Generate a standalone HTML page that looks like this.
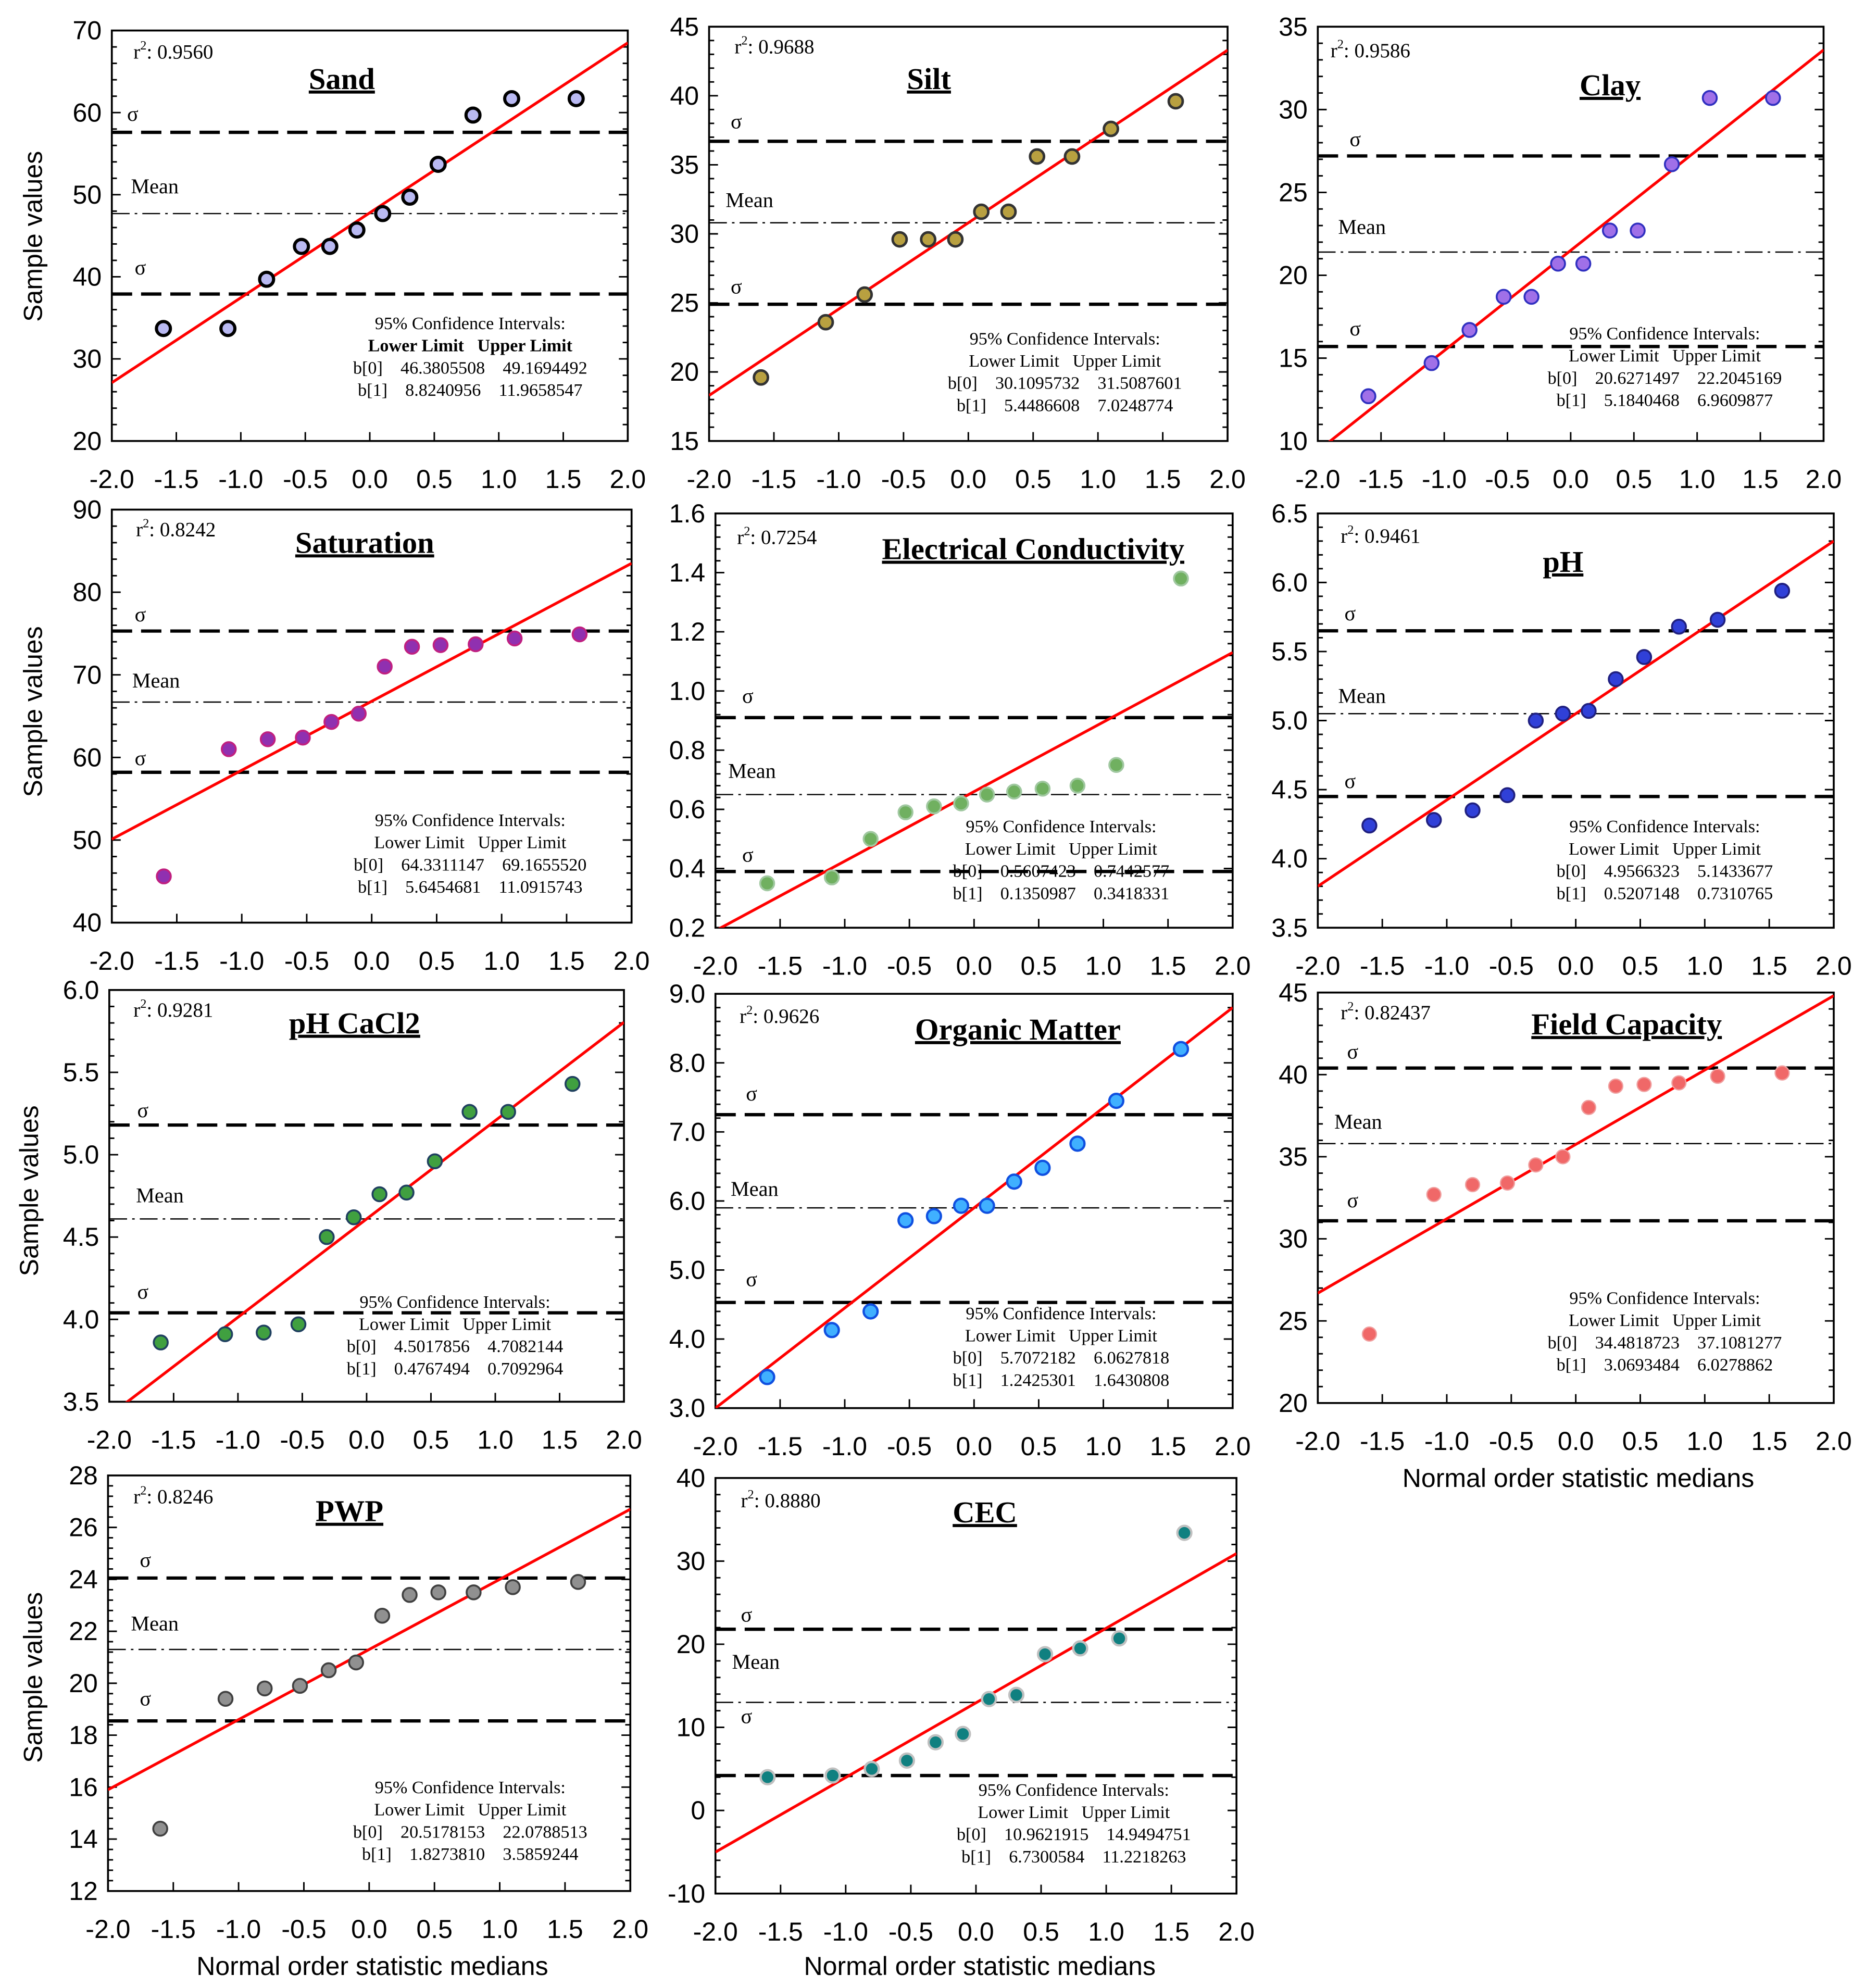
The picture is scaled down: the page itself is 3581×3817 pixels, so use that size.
<!DOCTYPE html>
<html><head><meta charset="utf-8"><style>
html,body{margin:0;padding:0;background:#fff;}
svg{display:block;}
.tk{font-family:"Liberation Sans",Arial,sans-serif;font-size:20.5px;fill:#000;}
.ser{font-family:"Liberation Serif","Times New Roman",serif;fill:#000;}
.pre{white-space:pre;}
</style></head><body>
<svg id="chart" xmlns="http://www.w3.org/2000/svg" width="3581" height="3817" viewBox="0 0 1467.6 1564.3"></svg>
<script>
const xMedians = [-1.6,-1.1,-0.8,-0.53,-0.31,-0.1,0.1,0.31,0.53,0.8,1.1,1.6];
const xTicks = [-2.0,-1.5,-1.0,-0.5,0.0,0.5,1.0,1.5,2.0];
const sandValues = [33.7,33.7,39.7,43.7,43.7,45.7,47.7,49.7,53.7,59.7,61.7,61.7];
const siltValues = [19.6,23.6,25.6,29.6,29.6,29.6,31.6,31.6,35.6,35.6,37.6,39.6];
const clayValues = [12.7,14.7,16.7,18.7,18.7,20.7,20.7,22.7,22.7,26.7,30.7,30.7];
const saturationValues = [45.6,61,62.2,62.4,64.3,65.3,71,73.4,73.6,73.7,74.4,74.9];
const ecValues = [0.35,0.37,0.50,0.59,0.61,0.62,0.65,0.66,0.67,0.68,0.75,1.38];
const phValues = [4.24,4.28,4.35,4.46,5.0,5.05,5.07,5.3,5.46,5.68,5.73,5.94];
const phCaValues = [3.86,3.91,3.92,3.97,4.5,4.62,4.76,4.77,4.96,5.26,5.26,5.43];
const omValues = [3.45,4.13,4.4,5.72,5.78,5.93,5.93,6.28,6.48,6.83,7.45,8.2];
const fcValues = [24.2,32.7,33.3,33.4,34.5,35,38,39.3,39.4,39.5,39.9,40.1];
const pwpValues = [14.4,19.4,19.8,19.9,20.5,20.8,22.6,23.4,23.5,23.5,23.7,23.9];
const cecValues = [4,4.2,5,6,8.2,9.2,13.4,13.9,18.8,19.5,20.7,33.4];
const sandFit=[47.8,10.35], siltFit=[30.8,6.25], clayFit=[21.5,6.05], satFit=[66.8,8.35], ecFit=[0.66,0.235],
      phFit=[5.05,0.625], phCaFit=[4.61,0.597], omFit=[5.9,1.45], fcFit=[35.75,4.53], pwpFit=[21.3,2.7], cecFit=[12.95,8.98];
const sandStats=[47.7,57.6,37.9], siltStats=[30.8,36.7,24.9], clayStats=[21.4,27.2,15.7], satStats=[66.7,75.3,58.2],
      ecStats=[0.65,0.91,0.39], phStats=[5.05,5.65,4.45], phCaStats=[4.61,5.18,4.04], omStats=[5.9,7.25,4.53],
      fcStats=[35.8,40.4,31.1], pwpStats=[21.3,24.05,18.55], cecStats=[13.0,21.8,4.2];
const r2Labels=["0.9560","0.9688","0.9586","0.8242","0.7254","0.9461","0.9281","0.9626","0.82437","0.8246","0.8880"];
const ciB0=[["46.3805508","49.1694492"],["30.1095732","31.5087601"],["20.6271497","22.2045169"],["64.3311147","69.1655520"],["0.5607423","0.7442577"],["4.9566323","5.1433677"],["4.5017856","4.7082144"],["5.7072182","6.0627818"],["34.4818723","37.1081277"],["20.5178153","22.0788513"],["10.9621915","14.9494751"]];
const ciB1=[["8.8240956","11.9658547"],["5.4486608","7.0248774"],["5.1840468","6.9609877"],["5.6454681","11.0915743"],["0.1350987","0.3418331"],["0.5207148","0.7310765"],["0.4767494","0.7092964"],["1.2425301","1.6430808"],["3.0693484","6.0278862"],["1.8273810","3.5859244"],["6.7300584","11.2218263"]];

const panels=[
 {name:"sand",title:"Sand",vals:sandValues,fit:sandFit,st:sandStats,ymin:20,ymax:70,step:10,dec:0,box:[88,24,494,347],tt:[269,70],r2:[105,46],s1:[100,95],s2:[106,216],mn:[103,152],ci:[370,259],fill:"#b9b9f2",stroke:"#000",sw:2.5,bold:true},
 {name:"silt",title:"Silt",vals:siltValues,fit:siltFit,st:siltStats,ymin:15,ymax:45,step:5,dec:0,box:[558,21,966,347],tt:[731,70],r2:[578,42],s1:[575,101],s2:[575,231],mn:[571,163],ci:[838,271],fill:"#b8a040",stroke:"#333",sw:2},
 {name:"clay",title:"Clay",vals:clayValues,fit:clayFit,st:clayStats,ymin:10,ymax:35,step:5,dec:0,box:[1037,21,1435,347],tt:[1267,75],r2:[1047,45],s1:[1062,115],s2:[1062,264],mn:[1053,184],ci:[1310,267],fill:"#a070e8",stroke:"#3030c0",sw:1.5},
 {name:"saturation",title:"Saturation",vals:saturationValues,fit:satFit,st:satStats,ymin:40,ymax:90,step:10,dec:0,box:[88,401,497,726],tt:[287,435],r2:[107,422],s1:[106,489],s2:[106,602],mn:[104,541],ci:[370,650],fill:"#9030b0",stroke:"#c02080",sw:1.5},
 {name:"electrical-conductivity",title:"Electrical Conductivity",vals:ecValues,fit:ecFit,st:ecStats,ymin:0.2,ymax:1.6,step:0.2,dec:1,box:[563,404,970,730],tt:[813,440],r2:[580,428],s1:[584,553],s2:[584,678],mn:[573,612],ci:[835,655],fill:"#70b060",stroke:"#a0c8a0",sw:1.5},
 {name:"ph",title:"pH",vals:phValues,fit:phFit,st:phStats,ymin:3.5,ymax:6.5,step:0.5,dec:1,box:[1037,404,1443,730],tt:[1230,450],r2:[1055,427],s1:[1058,488],s2:[1058,620],mn:[1053,553],ci:[1310,655],fill:"#3040d8",stroke:"#202080",sw:1.5},
 {name:"ph-cacl2",title:"pH  CaCl2",vals:phCaValues,fit:phCaFit,st:phCaStats,ymin:3.5,ymax:6.0,step:0.5,dec:1,box:[86,779,491,1103],tt:[279,813],r2:[105,800],s1:[108,879],s2:[108,1022],mn:[107,946],ci:[358,1029],fill:"#40a040",stroke:"#204060",sw:1.5},
 {name:"organic-matter",title:"Organic Matter",vals:omValues,fit:omFit,st:omStats,ymin:3,ymax:9,step:1,dec:1,box:[563,782,970,1108],tt:[801,818],r2:[582,805],s1:[587,866],s2:[587,1012],mn:[575,941],ci:[835,1038],fill:"#40b0ff",stroke:"#1050e0",sw:1.8},
 {name:"field-capacity",title:"Field Capacity",vals:fcValues,fit:fcFit,st:fcStats,ymin:20,ymax:45,step:5,dec:0,box:[1037,781,1443,1104],tt:[1280,814],r2:[1055,802],s1:[1060,833],s2:[1060,950],mn:[1050,888],ci:[1310,1026],fill:"#f06868",stroke:"#f0a0a0",sw:1},
 {name:"pwp",title:"PWP",vals:pwpValues,fit:pwpFit,st:pwpStats,ymin:12,ymax:28,step:2,dec:0,box:[85,1161,496,1488],tt:[275,1197],r2:[105,1183],s1:[110,1233],s2:[110,1342],mn:[103,1283],ci:[370,1411],fill:"#909090",stroke:"#404040",sw:1.5},
 {name:"cec",title:"CEC",vals:cecValues,fit:cecFit,st:cecStats,ymin:-10,ymax:40,step:10,dec:0,box:[563,1163,973,1490],tt:[775,1198],r2:[583,1186],s1:[583,1276],s2:[583,1356],mn:[576,1313],ci:[845,1413],fill:"#108080",stroke:"#c0c0c0",sw:1.8}
];
const NS="http://www.w3.org/2000/svg";
const svg=document.getElementById('chart');
function mk(tag,attrs,parent,text){const e=document.createElementNS(NS,tag);for(const k in attrs)e.setAttribute(k,attrs[k]);if(text!==undefined)e.textContent=text;(parent||svg).appendChild(e);return e;}

panels.forEach((p,pi)=>{
  const [L,T,R,B]=p.box;
  const g=mk('g',{});
  
  
  const sx=v=>L+(v+2)/4*(R-L);
  const sy=v=>B-(v-p.ymin)/(p.ymax-p.ymin)*(B-T);
  const clip='clip'+pi;
  const cp=mk('clipPath',{id:clip},g);mk('rect',{x:L,y:T,width:R-L,height:B-T},cp);
  const fr=mk('rect',{x:L,y:T,width:R-L,height:B-T,fill:'none',stroke:'#000','stroke-width':1.5},g);
  
  
  const nMaj=Math.round((p.ymax-p.ymin)/p.step);
  for(let i=0;i<=nMaj*5;i++){
    const v=p.ymin+i*p.step/5, y=sy(v), len=(i%5==0)?7:4;
    mk('line',{x1:L,x2:L+len,y1:y,y2:y,stroke:'#000','stroke-width':1.2},g);
    mk('line',{x1:R,x2:R-len,y1:y,y2:y,stroke:'#000','stroke-width':1.2},g);
    if(i%5==0){
      const t=mk('text',{x:L-8,y:y+7,class:'tk','text-anchor':'end'},g,v.toFixed(p.dec));
      
      
    }
  }
  xTicks.forEach(v=>{
    const x=sx(v);
    mk('line',{x1:x,x2:x,y1:B,y2:B-7,stroke:'#000','stroke-width':1.2},g);
    const t=mk('text',{x:x,y:B+37,class:'tk','text-anchor':'middle'},g,v.toFixed(1));
    
    
  });
  const cg=mk('g',{'clip-path':'url(#'+clip+')'},g);
  const ml=mk('line',{x1:L,x2:R,y1:sy(p.st[0]),y2:sy(p.st[0]),stroke:'#000','stroke-width':1,'stroke-dasharray':'14 4 2 4'},cg);
  
  
  [p.st[1],p.st[2]].forEach(v=>{
    const l=mk('line',{x1:L,x2:R,y1:sy(v),y2:sy(v),stroke:'#000','stroke-width':2.6,'stroke-dasharray':'16 7'},cg);
    
    
  });
  const rl=mk('line',{x1:sx(-2),x2:sx(2),y1:sy(p.fit[0]-2*p.fit[1]),y2:sy(p.fit[0]+2*p.fit[1]),stroke:'#ff0000','stroke-width':2.2},cg);
  
  
  p.vals.forEach((v,i)=>{
    const c=mk('circle',{cx:sx(xMedians[i]),cy:sy(v),r:5.5,fill:p.fill,stroke:p.stroke,'stroke-width':p.sw},g);
    
    
  });
  const r2=mk('text',{x:p.r2[0],y:p.r2[1],class:'ser','font-size':16},g);
  
  
  mk('tspan',{},r2,'r');mk('tspan',{dy:-7,'font-size':10},r2,'2');mk('tspan',{dy:7},r2,': '+r2Labels[pi]);
  const tt=mk('text',{x:p.tt[0],y:p.tt[1],class:'ser','font-size':24,'font-weight':'bold','text-anchor':'middle','text-decoration':'underline'},g,p.title);
  
  
  [[p.s1,'σ'],[p.s2,'σ'],[p.mn,'Mean']].forEach(([pos,s])=>{
    const t=mk('text',{x:pos[0],y:pos[1],class:'ser','font-size':16.5},g,s);
    
    
  });
  const cx=p.ci[0], cy=p.ci[1];
  const lines=['95% Confidence Intervals:','Lower Limit   Upper Limit','b[0]    '+ciB0[pi][0]+'    '+ciB0[pi][1],'b[1]    '+ciB1[pi][0]+'    '+ciB1[pi][1]];
  lines.forEach((s,k)=>{
    const t=mk('text',{x:cx,y:cy+k*17.5,class:'ser pre','font-size':14,'text-anchor':'middle','font-weight':(p.bold&&k==1)?'bold':'normal'},g,s);
    
    
  });
});
[[25,186],[25,560],[22,937],[25,1320]].forEach(([x,y])=>{
  const t=mk('text',{x:x,y:y,class:'tk','font-size':22,'text-anchor':'middle',transform:'rotate(-90 '+x+' '+y+')',dy:8},svg,'Sample values');
  
  
});
[[1242,1170],[293,1554],[771,1554]].forEach(([x,y])=>{
  const t=mk('text',{x:x,y:y,class:'tk','font-size':21,'text-anchor':'middle'},svg,'Normal order statistic medians');
  
  
});
</script>
</body></html>
